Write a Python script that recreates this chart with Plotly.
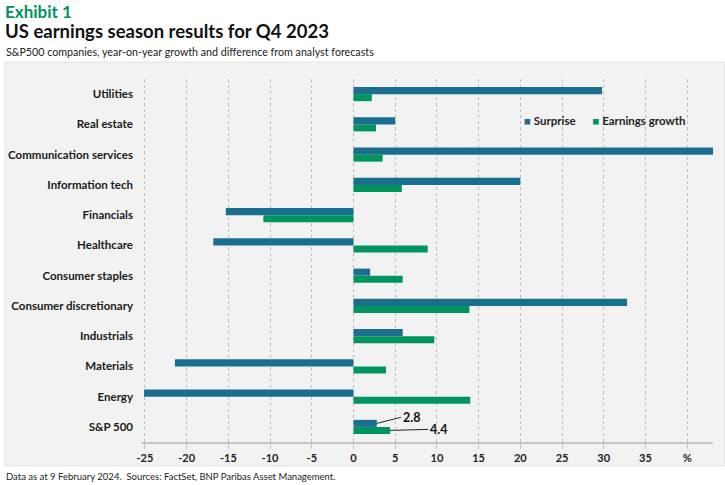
import plotly.graph_objects as go

categories = ["Utilities", "Real estate", "Communication services", "Information tech",
              "Financials", "Healthcare", "Consumer staples", "Consumer discretionary",
              "Industrials", "Materials", "Energy", "S&P 500"]
surprise = [29.8, 5.0, 43.1, 20.0, -15.3, -16.8, 2.0, 32.8, 5.9, -21.4, -25.1, 2.8]
earnings_growth = [2.2, 2.7, 3.5, 5.8, -10.8, 8.9, 5.9, 13.9, 9.7, 3.9, 14.0, 4.4]
x_tickvals = [-25, -20, -15, -10, -5, 0, 5, 10, 15, 20, 25, 30, 35, 40]
x_ticktext = ["-25", "-20", "-15", "-10", "-5", "0", "5", "10", "15", "20", "25", "30", "35", "%"]
series_names = ["Surprise", "Earnings growth"]

BLUE = "#1b6f8e"
GREEN = "#00955f"
FONT = "Lato"

W, H = 725, 485
L, R, T, B = 142, 12, 79, 43
pw, ph = W - L - R, H - T - B
XR = [-25.35, 43.1]

def px2x(p):
    return (p - L) / pw

def px2y(p):
    return (H - B - p) / ph

fig = go.Figure()
fig.add_trace(go.Bar(y=categories, x=surprise, orientation="h", name=series_names[0],
                     marker=dict(color=BLUE, line=dict(width=0)), showlegend=False))
fig.add_trace(go.Bar(y=categories, x=earnings_growth, orientation="h", name=series_names[1],
                     marker=dict(color=GREEN, line=dict(width=0)), showlegend=False))

zero_pos = (0 - XR[0]) / (XR[1] - XR[0])
n = len(categories)
bw = 0.465 / 2

fig.update_layout(
    width=W, height=H,
    margin=dict(l=L, r=R, t=T, b=B, autoexpand=False),
    paper_bgcolor="white",
    plot_bgcolor="rgba(0,0,0,0)",
    barmode="group", bargap=0.535, bargroupgap=0,
    font=dict(family=FONT, size=11, color="#222"),
    showlegend=False,
    xaxis=dict(range=XR, tickvals=x_tickvals, ticktext=x_ticktext,
               showgrid=True, gridcolor="#bcbcbc", griddash="dot", gridwidth=1,
               zeroline=False, showline=True, linecolor="#c4c4c4", linewidth=1.5,
               ticks="outside", ticklen=5, tickcolor="#c4c4c4",
               tickfont=dict(family=FONT, size=11, color="#222", weight="bold")),
    yaxis=dict(type="category", categoryarray=categories, range=[n - 0.5, -0.5],
               showgrid=False, zeroline=False, showline=False, ticks="",
               ticklabelstandoff=8,
               tickfont=dict(family=FONT, size=11.5, color="#1a1a1a", weight="bold")),
    yaxis2=dict(overlaying="y", anchor="free", position=zero_pos, side="left",
                range=[n - 0.5, -0.5], tickvals=[i - 0.5 for i in range(n + 1)],
                showticklabels=False, showgrid=False, zeroline=False,
                showline=True, linecolor="#a8a8a8", linewidth=1.2,
                ticks="outside", ticklen=4, tickcolor="#a8a8a8"),
)

# background panel
fig.add_shape(type="rect", xref="paper", yref="paper",
              x0=px2x(5), x1=px2x(724), y0=px2y(466), y1=px2y(62),
              fillcolor="#f2f2f2", line=dict(color="#e2e2e2", width=1), layer="below")

# legend drawn as text
legend_text = (f'<span style="color:{BLUE}">■</span> {series_names[0]}'
               f'      <span style="color:{GREEN}">■</span> {series_names[1]}')
fig.add_annotation(xref="paper", yref="paper", x=px2x(522), y=px2y(120),
                   xanchor="left", yanchor="middle", text=legend_text, showarrow=False,
                   font=dict(family=FONT, size=11.5, color="#222", weight="bold"))

# value labels for S&P 500
sp_idx = categories.index("S&P 500")
fig.add_annotation(x=surprise[sp_idx], y=sp_idx - bw / 2, xref="x", yref="y",
                   text=f"{surprise[sp_idx]}", showarrow=True, arrowhead=0, arrowwidth=1,
                   arrowcolor="#222", ax=24, ay=-6, xanchor="left", yanchor="middle",
                   font=dict(family=FONT, size=12.5, color="#111", weight="bold"))
fig.add_annotation(x=earnings_growth[sp_idx], y=sp_idx + bw / 2, xref="x", yref="y",
                   text=f"{earnings_growth[sp_idx]}", showarrow=True, arrowhead=0, arrowwidth=1,
                   arrowcolor="#222", ax=38, ay=-1, xanchor="left", yanchor="middle",
                   font=dict(family=FONT, size=12.5, color="#111", weight="bold"))

# titles (two lines in one text block)
title_text = ('<span style="font-size:17px;color:#00935f"><b>Exhibit 1</b></span><br>'
              '<span style="font-size:18.5px;color:#111"><b>US earnings season results for Q4 2023</b></span>')
fig.add_annotation(xref="paper", yref="paper", x=px2x(4), y=px2y(0), xanchor="left", yanchor="top",
                   text=title_text, showarrow=False, borderpad=0, align="left",
                   font=dict(family=FONT, size=15.4, color="#111"))
fig.add_annotation(xref="paper", yref="paper", x=px2x(4), y=px2y(43), xanchor="left", yanchor="top",
                   text="S&P500 companies, year-on-year growth and difference from analyst forecasts",
                   showarrow=False, font=dict(family=FONT, size=10.7, color="#222"))
fig.add_annotation(xref="paper", yref="paper", x=px2x(4), y=px2y(469), xanchor="left", yanchor="top",
                   text="Data as at 9 February 2024.  Sources: FactSet, BNP Paribas Asset Management.",
                   showarrow=False, font=dict(family=FONT, size=9.5, color="#222"))

fig.write_html("out.html", config={"displayModeBar": False},
               post_script="document.body.style.margin='0px';")
